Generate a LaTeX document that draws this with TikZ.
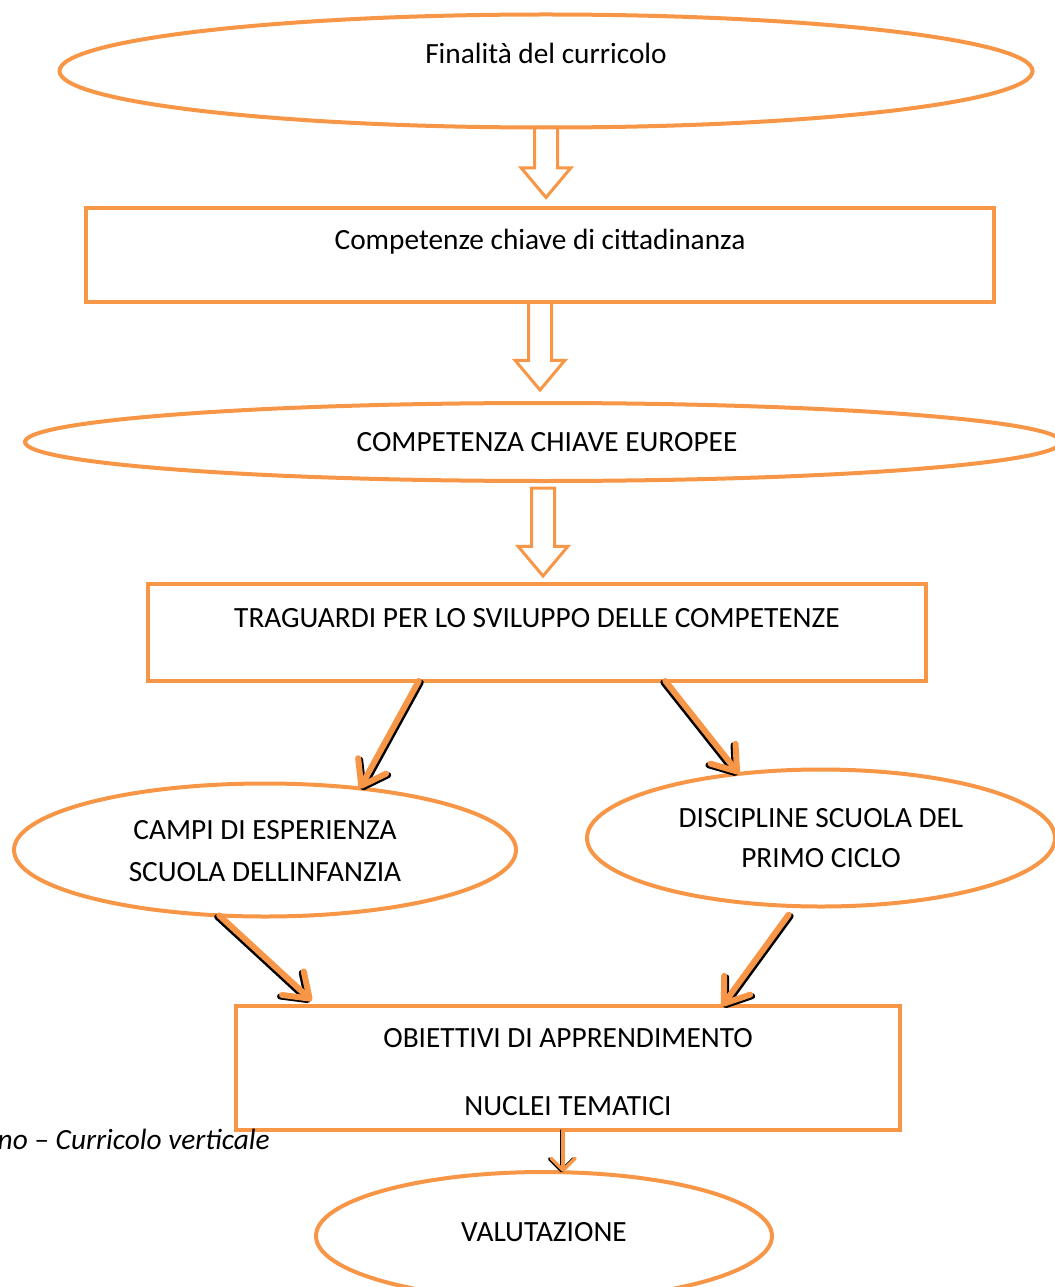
\documentclass[tikz,border=0pt]{standalone}
\usepackage{fontspec}
\setmainfont{Carlito}
\usetikzlibrary{calc,shapes.geometric,shapes.arrows,arrows.meta}
\definecolor{accOrange}{HTML}{F79646}

\begin{document}
\begin{tikzpicture}[x=0.75pt,y=-0.75pt]
\def\cLine{accOrange}
\def\cShadow{black}
\def\fs{\fontsize{22}{26}\selectfont}
\tikzset{
  oval/.style={draw=\cLine, line width=3pt, ellipse, inner sep=0pt, outer sep=0pt},
  box/.style={draw=\cLine, line width=3pt, rectangle, inner sep=0pt, outer sep=0pt},
  txt/.style={anchor=base, inner sep=0pt, font=\fs},
  hollowarrow/.style={single arrow, draw=\cLine, line width=2.25pt, shape border rotate=270,
    single arrow head extend=10pt, single arrow tip angle=80,
    inner sep=7.5pt, outer sep=0pt, anchor=tail},
  flow/.style={draw=\cLine, line width=4.5pt, line cap=round,
    -{Straight Barb[length=17pt, width=24pt, round]}},
  flowshadow/.style={draw=\cShadow, line width=4.5pt, line cap=round,
    -{Straight Barb[length=17pt, width=24pt, round]}},
}
\useasboundingbox (0,0) rectangle (1054,1287);

% shapes
\node[oval, minimum width=729.75pt, minimum height=84.75pt] (fin) at (546,71) {};
\node[box, minimum width=681pt, minimum height=70.5pt] (cit) at (540,255) {};
\node[oval, minimum width=777pt, minimum height=58.5pt] (euro) at (543,442) {};
\node[box, minimum width=583.5pt, minimum height=72.75pt] (trag) at (537,632.5) {};
\node[oval, minimum width=376.5pt, minimum height=99.75pt] (campi) at (265,850) {};
\node[oval, minimum width=351pt, minimum height=102.75pt] (disc) at (821,838) {};
\node[box, minimum width=498pt, minimum height=93pt] (obiet) at (568,1068) {};
\node[oval, minimum width=342pt, minimum height=96pt] (valu) at (544,1236) {};

% texts
\node[txt] (tFin) at (546,64) {Finalità del curricolo};
\node[txt] (tCit) at (540,250) {Competenze chiave di cittadinanza};
\node[txt] (tEuro) at (547,451) {COMPETENZA CHIAVE EUROPEE};
\node[txt] (tTrag) at (537,627) {TRAGUARDI PER LO SVILUPPO DELLE COMPETENZE};
\node[txt] (tCampiA) at (265,839) {CAMPI DI ESPERIENZA};
\node[txt] (tCampiB) at (265,881) {SCUOLA DELLINFANZIA};
\node[txt] (tDiscA) at (821,827) {DISCIPLINE SCUOLA DEL};
\node[txt] (tDiscB) at (821,867) {PRIMO CICLO};
\node[txt] (tObA) at (568,1047) {OBIETTIVI DI APPRENDIMENTO};
\node[txt] (tObB) at (568,1115) {NUCLEI TEMATICI};
\node[txt] (tVal) at (544,1241) {VALUTAZIONE};
\node[txt, anchor=base east, font=\fs\itshape] (cap) at (270,1149) {no – Curricolo verticale};

% hollow arrows
\node[hollowarrow, minimum height=52.5pt] (a1) at (fin.south) {};
\node[hollowarrow, minimum height=66pt] (a2) at (cit.south) {};
\node[hollowarrow, minimum height=66pt] (a3) at ([yshift=-5.25pt]euro.south) {};

% connectors
\coordinate (s1) at ($(trag.south west)!0.348!(trag.south east)$);
\coordinate (s2) at ($(trag.south west)!0.665!(trag.south east)$);
\coordinate (e3) at ($(obiet.north west)!0.123!(obiet.north east)$);
\coordinate (e4) at ($(obiet.north west)!0.732!(obiet.north east)$);
\coordinate (s5) at ($(obiet.south west)!0.4925!(obiet.south east)$);
\draw[flowshadow, transform canvas={shift={(2,1.5)}}] (s1) -- (campi.33);
\draw[flow] (s1) -- (campi.33);
\draw[flowshadow, transform canvas={shift={(-2,1.5)}}] (s2) -- (disc.142);
\draw[flow] (s2) -- (disc.142);
\draw[flowshadow, shorten >=6pt, transform canvas={shift={(-2,1.5)}}] (campi.235) -- (e3);
\draw[flow, shorten >=6pt] (campi.235) -- (e3);
\draw[flowshadow, shorten <=8pt, transform canvas={shift={(2,1.5)}}] (disc.249) -- (e4);
\draw[flow, shorten <=8pt] (disc.249) -- (e4);
\draw[flowshadow, line width=2.6pt, -{Straight Barb[length=9pt, width=18pt, round]}, transform canvas={shift={(-1.5,0.5)}}] (s5) -- (s5 |- valu.north);
\draw[flow, line width=2.6pt, -{Straight Barb[length=9pt, width=18pt, round]}] (s5) -- (s5 |- valu.north);
\end{tikzpicture}
\end{document}
